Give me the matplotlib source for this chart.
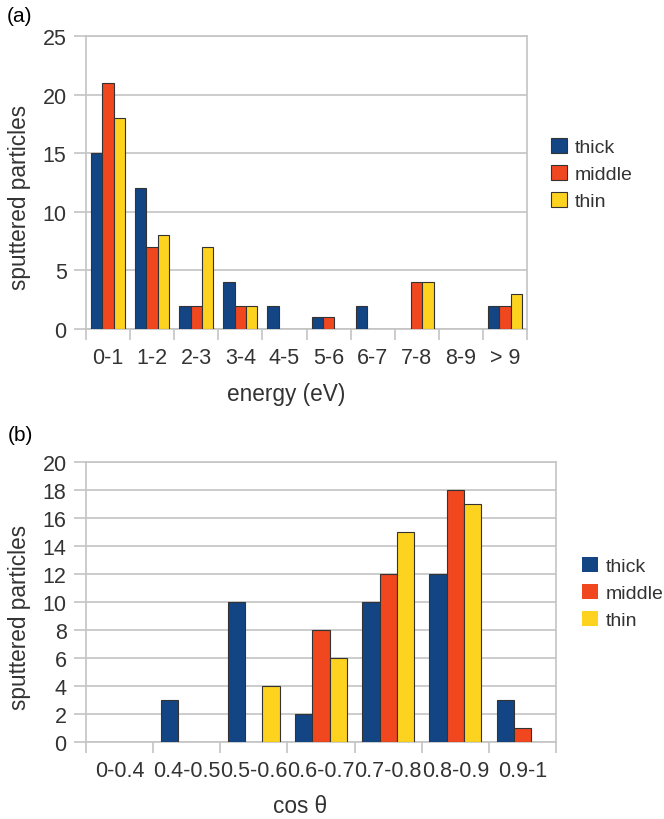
import numpy as np
import matplotlib
matplotlib.use("Agg")
import matplotlib.pyplot as plt

# datos
energias = ["0-1", "1-2", "2-3", "3-4", "4-5", "5-6", "6-7", "7-8", "8-9", "> 9"]
e_thick = [15, 12, 2, 4, 2, 1, 2, 0, 0, 2]
e_middle = [21, 7, 2, 2, 0, 1, 0, 4, 0, 2]
e_thin = [18, 8, 7, 2, 0, 0, 0, 4, 0, 3]

angulos = ["0-0.4", "0.4-0.5", "0.5-0.6", "0.6-0.7", "0.7-0.8", "0.8-0.9", "0.9-1"]
a_thick = [0, 3, 10, 2, 10, 12, 3]
a_middle = [0, 0, 0, 8, 12, 18, 1]
a_thin = [0, 0, 4, 6, 15, 17, 0]

series = ["thick", "middle", "thin"]
colores = {"thick": "#134585", "middle": "#f0471f", "thin": "#fdd320"}

plt.rcParams["font.family"] = ["Liberation Sans", "DejaVu Sans"]
texto = "#333333"
gris = "#c4c4c4"
fs = 15.5
fs_lab = 16.3
fs_leg = 14

fig = plt.figure(figsize=(6.64, 8.2), dpi=100)


def grafico(ax, cats, datos, ymax, ystep):
    n = len(cats)
    x = np.arange(n)
    w = 0.77 / 3
    barras = []
    for i, (nombre, vals) in enumerate(zip(series, datos)):
        lw = [0.8 if v > 0 else 0 for v in vals]
        b = ax.bar(x + (i - 1) * w, vals, w, color=colores[nombre],
                   edgecolor="#333333", linewidth=lw, label=nombre, zorder=3)
        barras.append(b)
    ax.set_xlim(-0.5, n - 0.5)
    ax.set_ylim(0, ymax)
    ax.set_yticks(np.arange(0, ymax + 1, ystep))
    ax.set_xticks(np.arange(-0.5, n, 1.0))
    ax.set_xticklabels([])
    ax.set_xticks(x, minor=True)
    ax.set_xticklabels(cats, minor=True)
    ax.tick_params(axis="x", which="major", length=8, width=1.2, color=gris)
    ax.tick_params(axis="x", which="minor", length=0, pad=13, labelsize=fs, labelcolor=texto)
    ax.tick_params(axis="y", length=9, width=1.2, color=gris, pad=5, labelsize=fs, labelcolor=texto)
    ax.yaxis.grid(True, color=gris, linewidth=1.2, zorder=0)
    ax.set_axisbelow(True)
    for s in ax.spines.values():
        s.set_color(gris)
        s.set_linewidth(1.2)
    return barras


# (a) energia
ax1 = fig.add_axes([86 / 664, 1 - 330 / 820, 441 / 664, 293 / 820])
b1 = grafico(ax1, energias, [e_thick, e_middle, e_thin], 25, 5)
fig.text(20 / 664, 1 - 197 / 820, "sputtered particles", rotation=90, ha="center",
         va="center", fontsize=fs_lab, color=texto)
fig.text(286 / 664, 1 - 395 / 820, "energy (eV)", ha="center", va="center",
         fontsize=fs_lab, color=texto)
fig.text(20 / 664, 1 - 17 / 820, "(a)", ha="center", va="center", fontsize=15, color="black")
fig.legend(handles=b1, loc="center left", bbox_to_anchor=(551 / 664, 1 - 175 / 820),
           frameon=False, fontsize=fs_leg, handlelength=0.8, handleheight=0.8,
           handletextpad=0.4, labelspacing=0.45, borderpad=0, borderaxespad=0,
           labelcolor=texto)

# (b) angulo
ax2 = fig.add_axes([86 / 664, 1 - 743 / 820, 470 / 664, 280 / 820])
b2 = grafico(ax2, angulos, [a_thick, a_middle, a_thin], 20, 2)
fig.text(20 / 664, 1 - 617 / 820, "sputtered particles", rotation=90, ha="center",
         va="center", fontsize=fs_lab, color=texto)
fig.text(300 / 664, 1 - 807 / 820, "cos θ", ha="center", va="center",
         fontsize=fs_lab, color=texto)
fig.text(20 / 664, 1 - 436 / 820, "(b)", ha="center", va="center", fontsize=15, color="black")
fig.legend(handles=b2, loc="center left", bbox_to_anchor=(582 / 664, 1 - 594 / 820),
           frameon=False, fontsize=fs_leg, handlelength=0.8, handleheight=0.8,
           handletextpad=0.4, labelspacing=0.45, borderpad=0, borderaxespad=0,
           labelcolor=texto)

plt.savefig("out.png", dpi=100)
